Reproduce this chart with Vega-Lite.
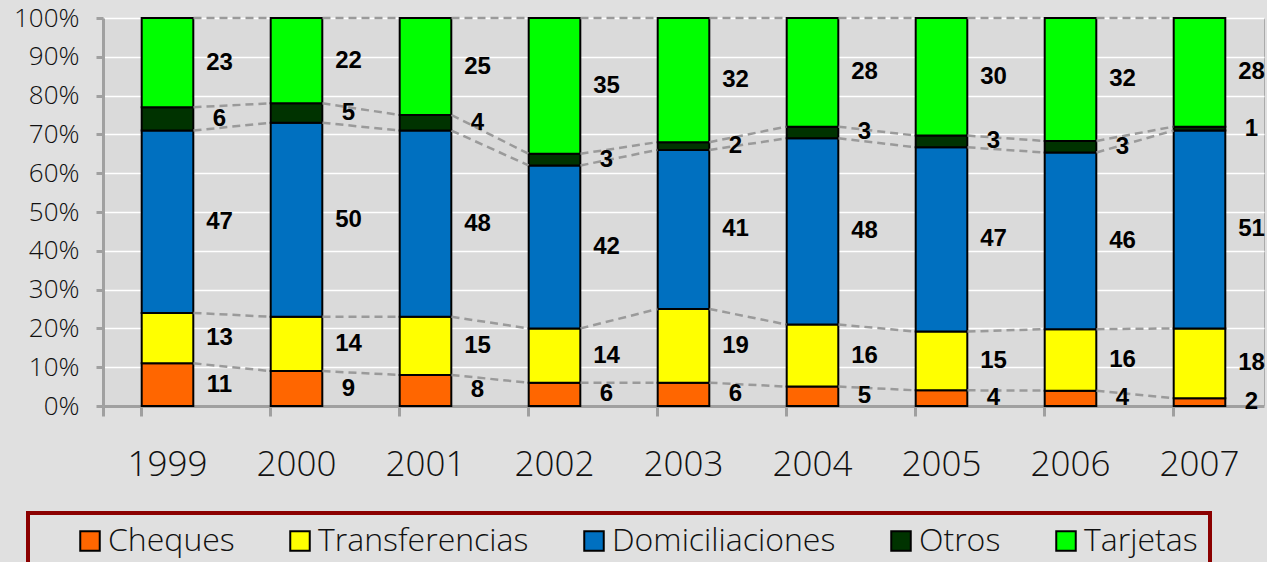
{
  "$schema": "https://vega.github.io/schema/vega-lite/v6.json",
  "width": 1161,
  "height": 388,
  "autosize": {"type": "none"},
  "padding": {"left": 103, "top": 18, "right": 3, "bottom": 156},
  "background": "#e0e0e0",
  "config": {
    "view": {"fill": "#dadada", "stroke": "#aaaaaa", "strokeWidth": 1},
    "axis": {"labelFont": "Open Sans", "labelColor": "#111111"},
    "axisY": {
      "labelOverlap": false,
      "labelFontSize": 26,
      "labelFontWeight": 300,
      "labelPadding": 17,
      "tickSize": 7,
      "tickWidth": 3,
      "tickColor": "#a0a0a0",
      "domainColor": "#a0a0a0",
      "domainWidth": 3,
      "gridColor": "#ffffff",
      "gridWidth": 1.5,
      "gridOpacity": 1
    },
    "legend": {"labelFont": "Open Sans"}
  },
  "data": {
    "values": [
      {"year": "1999", "cat": "Cheques", "value": 11},
      {"year": "1999", "cat": "Transferencias", "value": 13},
      {"year": "1999", "cat": "Domiciliaciones", "value": 47},
      {"year": "1999", "cat": "Otros", "value": 6},
      {"year": "1999", "cat": "Tarjetas", "value": 23},
      {"year": "2000", "cat": "Cheques", "value": 9},
      {"year": "2000", "cat": "Transferencias", "value": 14},
      {"year": "2000", "cat": "Domiciliaciones", "value": 50},
      {"year": "2000", "cat": "Otros", "value": 5},
      {"year": "2000", "cat": "Tarjetas", "value": 22},
      {"year": "2001", "cat": "Cheques", "value": 8},
      {"year": "2001", "cat": "Transferencias", "value": 15},
      {"year": "2001", "cat": "Domiciliaciones", "value": 48},
      {"year": "2001", "cat": "Otros", "value": 4},
      {"year": "2001", "cat": "Tarjetas", "value": 25},
      {"year": "2002", "cat": "Cheques", "value": 6},
      {"year": "2002", "cat": "Transferencias", "value": 14},
      {"year": "2002", "cat": "Domiciliaciones", "value": 42},
      {"year": "2002", "cat": "Otros", "value": 3},
      {"year": "2002", "cat": "Tarjetas", "value": 35},
      {"year": "2003", "cat": "Cheques", "value": 6},
      {"year": "2003", "cat": "Transferencias", "value": 19},
      {"year": "2003", "cat": "Domiciliaciones", "value": 41},
      {"year": "2003", "cat": "Otros", "value": 2},
      {"year": "2003", "cat": "Tarjetas", "value": 32},
      {"year": "2004", "cat": "Cheques", "value": 5},
      {"year": "2004", "cat": "Transferencias", "value": 16},
      {"year": "2004", "cat": "Domiciliaciones", "value": 48},
      {"year": "2004", "cat": "Otros", "value": 3},
      {"year": "2004", "cat": "Tarjetas", "value": 28},
      {"year": "2005", "cat": "Cheques", "value": 4},
      {"year": "2005", "cat": "Transferencias", "value": 15},
      {"year": "2005", "cat": "Domiciliaciones", "value": 47},
      {"year": "2005", "cat": "Otros", "value": 3},
      {"year": "2005", "cat": "Tarjetas", "value": 30},
      {"year": "2006", "cat": "Cheques", "value": 4},
      {"year": "2006", "cat": "Transferencias", "value": 16},
      {"year": "2006", "cat": "Domiciliaciones", "value": 46},
      {"year": "2006", "cat": "Otros", "value": 3},
      {"year": "2006", "cat": "Tarjetas", "value": 32},
      {"year": "2007", "cat": "Cheques", "value": 2},
      {"year": "2007", "cat": "Transferencias", "value": 18},
      {"year": "2007", "cat": "Domiciliaciones", "value": 51},
      {"year": "2007", "cat": "Otros", "value": 1},
      {"year": "2007", "cat": "Tarjetas", "value": 28}
    ]
  },
  "transform": [
    {"calculate": "indexof(['Cheques','Transferencias','Domiciliaciones','Otros','Tarjetas'], datum.cat)", "as": "orden"},
    {"stack": "value", "groupby": ["year"], "sort": [{"field": "orden", "order": "ascending"}], "as": ["y0", "y1"], "offset": "normalize"},
    {"calculate": "(datum.y0 + datum.y1) / 2", "as": "mid"}
  ],
  "encoding": {
    "x": {
      "field": "year",
      "type": "nominal",
      "scale": {"paddingInner": 0.6, "paddingOuter": 0.3},
      "axis": {
        "title": null,
        "labelAngle": 0,
        "labelFontSize": 35,
        "labelFontWeight": 300,
        "labelPadding": 31,
        "ticks": true,
        "bandPosition": 0,
        "tickExtra": true,
        "tickSize": 10,
        "tickWidth": 3,
        "tickColor": "#a0a0a0",
        "tickOpacity": 1,
        "domainColor": "#a0a0a0",
        "domainWidth": 3,
        "grid": false
      }
    }
  },
  "layer": [
    {
      "mark": {"type": "bar", "stroke": "black", "strokeWidth": 2},
      "encoding": {
        "y": {
          "field": "y0",
          "type": "quantitative",
          "scale": {"domain": [0, 1]},
          "axis": {"title": null, "values": [0, 0.1, 0.2, 0.3, 0.4, 0.5, 0.6, 0.7, 0.8, 0.9, 1], "format": ".0%"}
        },
        "y2": {"field": "y1"},
        "color": {
          "field": "cat",
          "type": "nominal",
          "scale": {
            "domain": ["Cheques", "Transferencias", "Domiciliaciones", "Otros", "Tarjetas"],
            "range": ["#ff6600", "#ffff00", "#0070c0", "#003300", "#00ff00"]
          },
          "legend": {
            "title": " ",
            "titleOrient": "left",
            "titleFontSize": 2,
            "titlePadding": 34,
            "orient": "none",
            "legendX": -75,
            "legendY": 495,
            "direction": "horizontal",
            "symbolType": "square",
            "symbolSize": 380,
            "symbolStrokeColor": "black",
            "symbolStrokeWidth": 2,
            "symbolOpacity": 1,
            "labelFontSize": 32,
            "labelFontWeight": 300,
            "labelColor": "#111111",
            "labelOffset": 2,
            "labelLimit": 400,
            "columnPadding": 49,
            "padding": 12,
            "strokeColor": "#8b0000",
            "encode": {"legend": {"update": {"strokeWidth": {"value": 4}}}}
          }
        }
      }
    },
    {
      "transform": [
        {"window": [{"op": "lead", "field": "y1", "as": "nextY"}, {"op": "lead", "field": "year", "as": "nextYear"}], "groupby": ["cat"], "sort": [{"field": "year", "order": "ascending"}]},
        {"filter": "datum.nextYear != null"}
      ],
      "mark": {"type": "rule", "stroke": "#9a9a9a", "strokeWidth": 2.5, "strokeDash": [8, 5], "xOffset": 26, "x2Offset": -26},
      "encoding": {
        "x2": {"field": "nextYear"},
        "y": {"field": "y1", "type": "quantitative", "axis": {"title": null, "values": [0, 0.1, 0.2, 0.3, 0.4, 0.5, 0.6, 0.7, 0.8, 0.9, 1], "format": ".0%"}},
        "y2": {"field": "nextY"}
      }
    },
    {
      "mark": {"type": "text", "font": "Liberation Sans", "fontWeight": "bold", "fontSize": 24, "dx": 52, "align": "center", "baseline": "middle", "color": "black"},
      "encoding": {
        "y": {"field": "mid", "type": "quantitative", "axis": {"title": null, "values": [0, 0.1, 0.2, 0.3, 0.4, 0.5, 0.6, 0.7, 0.8, 0.9, 1], "format": ".0%"}},
        "text": {"field": "value", "type": "quantitative"}
      }
    }
  ]
}
